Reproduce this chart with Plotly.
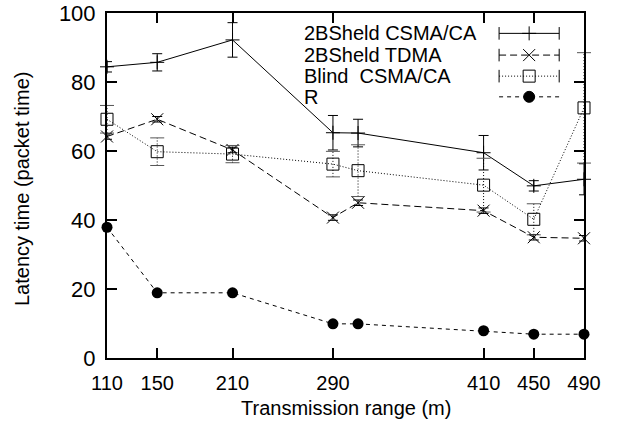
import plotly.graph_objects as go

# ---- data ----
x_range_m = [110, 150, 210, 290, 310, 410, 450, 490]
x_ticks = [110, 150, 210, 290, 410, 450, 490]

csma_name = "2BSheld CSMA/CA"
csma_vals = [84.4, 85.7, 92.2, 65.3, 65.2, 59.5, 49.9, 51.8]
csma_err = [1.5, 2.5, 5.0, 5.0, 4.0, 5.0, 1.5, 4.5]

tdma_name = "2BSheld TDMA"
tdma_vals = [64.2, 69.2, 60.3, 40.7, 45.0, 42.7, 35.0, 34.7]
tdma_err = [0.8, 0.8, 0.8, 0.8, 0.8, 0.8, 0.8, 0.8]

blind_name = "Blind  CSMA/CA"
blind_vals = [69.2, 59.8, 59.1, 56.2, 54.3, 50.1, 40.2, 72.5]
blind_err = [4.0, 4.0, 2.5, 3.7, 7.5, 7.8, 4.5, 16.0]

r_name = "R"
r_vals = [37.9, 18.9, 18.9, 9.9, 9.9, 7.9, 6.9, 6.9]

FONT = "Liberation Sans, Arial, Helvetica, sans-serif"
BLACK = "#000000"

fig = go.Figure()

# 2BSheld CSMA/CA: solid line, + markers, error bars
fig.add_trace(go.Scatter(
    x=x_range_m, y=csma_vals, mode="lines+markers", cliponaxis=False,
    line=dict(color=BLACK, width=1),
    marker=dict(symbol="cross-thin", size=10, line=dict(color=BLACK, width=1)),
    error_y=dict(type="data", array=csma_err, visible=True, color=BLACK, thickness=1, width=5),
    showlegend=False))

# 2BSheld TDMA: dashed line, x markers
fig.add_trace(go.Scatter(
    x=x_range_m, y=tdma_vals, mode="lines+markers", cliponaxis=False,
    line=dict(color=BLACK, width=1, dash="7px,4px"),
    marker=dict(symbol="x-thin", size=12, line=dict(color=BLACK, width=1)),
    error_y=dict(type="data", array=tdma_err, visible=True, color=BLACK, thickness=1, width=5),
    showlegend=False))

# Blind CSMA/CA: dotted error bars built from the data
ex, ey = [], []
for xv, yv, ev in zip(x_range_m, blind_vals, blind_err):
    ex += [xv, xv, None]
    ey += [yv - ev, yv + ev, None]
fig.add_trace(go.Scatter(
    x=ex, y=ey, mode="lines+markers", cliponaxis=False,
    line=dict(color=BLACK, width=1, dash="1px,2px"),
    marker=dict(symbol="line-ew", size=10, color=BLACK, line=dict(color="#555555", width=1)),
    showlegend=False, hoverinfo="skip"))
fig.add_trace(go.Scatter(
    x=x_range_m, y=blind_vals, mode="lines+markers", cliponaxis=False,
    line=dict(color=BLACK, width=1, dash="1px,2px"),
    marker=dict(symbol="square-open", size=12, color=BLACK, line=dict(color=BLACK, width=1)),
    showlegend=False))

# R: short dashed line, filled circles
fig.add_trace(go.Scatter(
    x=x_range_m, y=r_vals, mode="lines+markers", cliponaxis=False,
    line=dict(color=BLACK, width=1, dash="4px,4px"),
    marker=dict(symbol="circle", size=11, color=BLACK),
    showlegend=False))

# ---- hand-made legend (text left, sample right, like gnuplot) ----
leg_rows = [0.941, 0.878, 0.817, 0.757]
leg_x0, leg_xm, leg_x1 = 0.822, 0.885, 0.948
leg_text_x = 0.409
leg_specs = [
    (csma_name, "solid", "cross-thin", 10, True),
    (tdma_name, "7px,4px", "x-thin", 12, True),
    (blind_name, "1px,2px", "square-open", 12, True),
    (r_name, "4px,4px", "circle", 11, False),
]
for (name, dash, sym, size, caps), ry in zip(leg_specs, leg_rows):
    fig.add_trace(go.Scatter(
        x=[leg_x0, leg_x1], y=[ry, ry], xaxis="x2", yaxis="y2", mode="lines",
        line=dict(color=BLACK, width=1, dash=dash), showlegend=False, hoverinfo="skip"))
    if caps:
        fig.add_trace(go.Scatter(
            x=[leg_x0, leg_x1], y=[ry, ry], xaxis="x2", yaxis="y2", mode="markers",
            marker=dict(symbol="line-ns", size=9, line=dict(color=BLACK, width=1)),
            showlegend=False, hoverinfo="skip", cliponaxis=False))
    fig.add_trace(go.Scatter(
        x=[leg_xm], y=[ry], xaxis="x2", yaxis="y2", mode="markers",
        marker=dict(symbol=sym, size=size, color=BLACK, line=dict(color=BLACK, width=1)),
        showlegend=False, hoverinfo="skip", cliponaxis=False))
    fig.add_annotation(x=leg_text_x, y=ry, xref="paper", yref="paper", text=name,
                       showarrow=False, xanchor="left", yanchor="middle",
                       font=dict(family=FONT, size=20, color=BLACK))

# axis titles
fig.add_annotation(x=0.501, y=-0.145, xref="paper", yref="paper",
                   text="Transmission range (m)", showarrow=False,
                   xanchor="center", yanchor="middle",
                   font=dict(family=FONT, size=20, color=BLACK))
fig.add_annotation(x=-0.178, y=0.49, xref="paper", yref="paper",
                   text="Latency time (packet time)", showarrow=False, textangle=-90,
                   xanchor="center", yanchor="middle",
                   font=dict(family=FONT, size=20, color=BLACK))

fig.update_layout(
    width=623, height=424,
    margin=dict(l=107, r=39, t=13, b=66, pad=0),
    paper_bgcolor="white", plot_bgcolor="white",
    font=dict(family=FONT, size=19, color=BLACK),
    showlegend=False,
    xaxis=dict(range=[110, 490], tickvals=x_ticks, ticktext=[str(v) for v in x_ticks],
               ticks="inside", ticklen=10, tickwidth=2, tickcolor=BLACK,
               showline=True, linewidth=2, linecolor=BLACK, mirror="ticks",
               showgrid=False, zeroline=False, ticklabelstandoff=6, automargin=False,
               tickfont=dict(family=FONT, size=20, color=BLACK)),
    yaxis=dict(range=[0, 100], tickvals=[0, 20, 40, 60, 80, 100],
               ticks="inside", ticklen=10, tickwidth=2, tickcolor=BLACK,
               showline=True, linewidth=2, linecolor=BLACK, mirror="ticks",
               showgrid=False, zeroline=False, ticklabelstandoff=5, automargin=False,
               ticklabeloverflow="allow",
               tickfont=dict(family=FONT, size=22, color=BLACK)),
    xaxis2=dict(overlaying="x", range=[0, 1], visible=False, anchor="y2", automargin=False),
    yaxis2=dict(overlaying="y", range=[0, 1], visible=False, anchor="x2", automargin=False),
)

# remove the default 8px page margin so the figure sits at the window's corner
fig.write_html("out.html", config={"displayModeBar": False},
               post_script="document.body.style.margin='0';")
